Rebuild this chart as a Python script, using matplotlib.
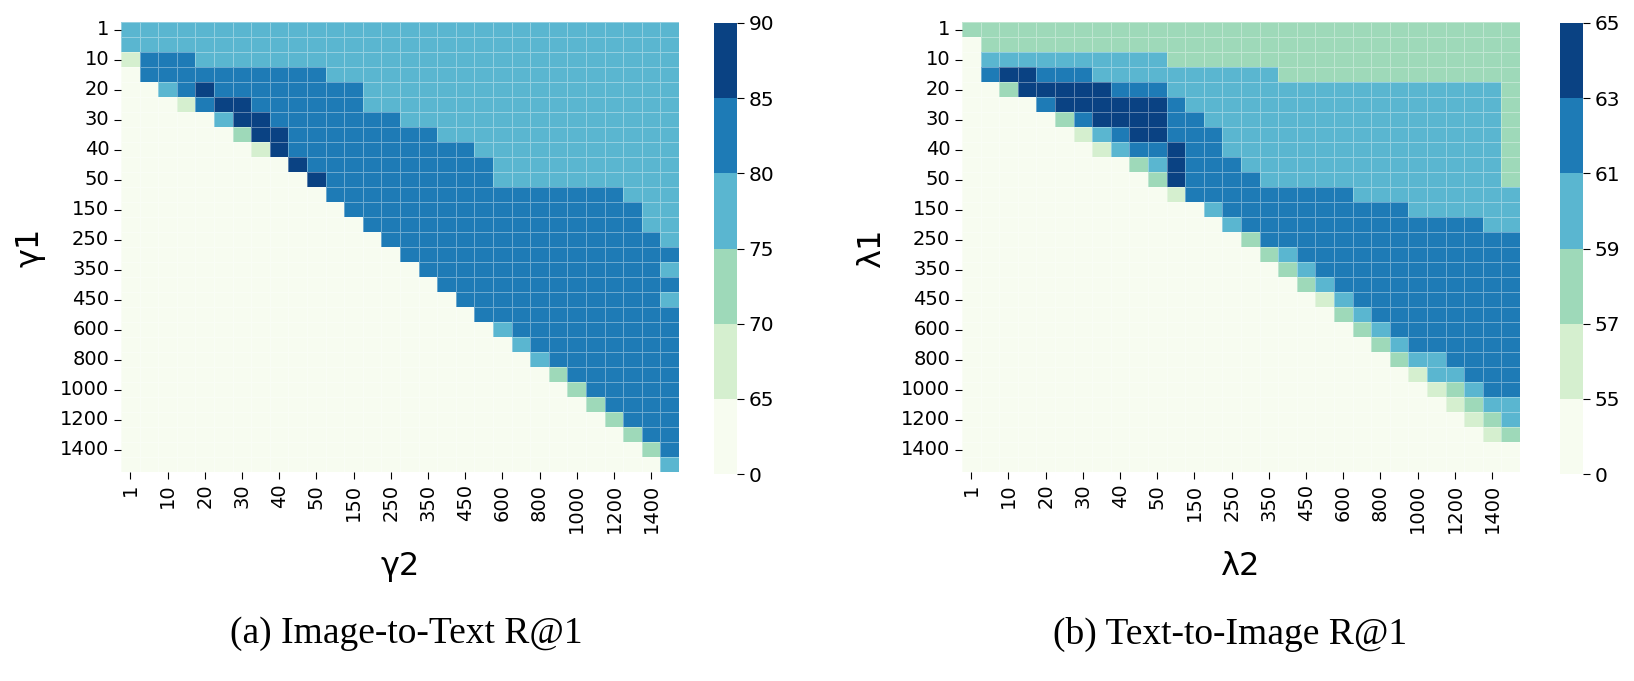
import numpy as np
import pandas as pd
import matplotlib
matplotlib.use("Agg")
import matplotlib.pyplot as plt
import seaborn as sns
from matplotlib.colors import ListedColormap, BoundaryNorm

# parameter grid (same for both axes, only every other label is shown)
params = [1, 5, 10, 15, 20, 25, 30, 35, 40, 45, 50, 100, 150, 200, 250,
          300, 350, 400, 450, 500, 600, 700, 800, 900, 1000, 1100, 1200, 1300, 1400, 1500]

colors = ["#f7fcf0", "#d5efcf", "#9ed9b9", "#5ab6d0", "#1e7bb6", "#0a4283"]

# (a) Image-to-Text R@1 : colour bins and estimated value per bin
bounds_a = [0, 65, 70, 75, 80, 85, 90]
levels_a = [0, 67, 72, 77.5, 82.5, 87.5]
# one string per gamma1 row, one char per gamma2 column ('.'=empty, a..e = bins)
rows_a = [
    "cccccccccc" "cccccccccc" "cccccccccc",
    "cccccccccc" "cccccccccc" "cccccccccc",
    "adddcccccc" "cccccccccc" "cccccccccc",
    ".ddddddddd" "dccccccccc" "cccccccccc",
    "..cdeddddd" "dddccccccc" "cccccccccc",
    "...adeeddd" "dddccccccc" "cccccccccc",
    ".....ceedd" "dddddccccc" "cccccccccc",
    "......beed" "dddddddccc" "cccccccccc",
    ".......aed" "dddddddddc" "cccccccccc",
    ".........e" "dddddddddd" "cccccccccc",
    ".........." "eddddddddd" "cccccccccc",
    ".........." ".ddddddddd" "dddddddccc",
    ".........." "..dddddddd" "ddddddddcc",
    ".........." "...ddddddd" "ddddddddcc",
    ".........." "....dddddd" "dddddddddc",
    ".........." ".....ddddd" "dddddddddd",
    ".........." "......dddd" "dddddddddc",
    ".........." ".......ddd" "dddddddddd",
    ".........." "........dd" "dddddddddc",
    ".........." ".........d" "dddddddddd",
    ".........." ".........." "cddddddddd",
    ".........." ".........." ".cdddddddd",
    ".........." ".........." "..cddddddd",
    ".........." ".........." "...bdddddd",
    ".........." ".........." "....bddddd",
    ".........." ".........." ".....bdddd",
    ".........." ".........." "......bddd",
    ".........." ".........." ".......bdd",
    ".........." ".........." "........bd",
    ".........." ".........." ".........c",
]

# (b) Text-to-Image R@1
bounds_b = [0, 55, 57, 59, 61, 63, 65]
levels_b = [0, 56, 58, 60, 62, 64]
rows_b = [
    "bbbbbbbbbb" "bbbbbbbbbb" "bbbbbbbbbb",
    ".bbbbbbbbb" "bbbbbbbbbb" "bbbbbbbbbb",
    ".ccccccccc" "cbbbbbbbbb" "bbbbbbbbbb",
    ".deedddccc" "cccccccbbb" "bbbbbbbbbb",
    "..beeeeedd" "dccccccccc" "cccccccccb",
    "....deeeee" "edcccccccc" "cccccccccb",
    ".....bdeee" "eddccccccc" "cccccccccb",
    "......acde" "edddcccccc" "cccccccccb",
    ".......acd" "deddcccccc" "cccccccccb",
    ".........b" "cedddccccc" "cccccccccb",
    ".........." "beddddcccc" "cccccccccb",
    ".........." ".adddddddd" "dccccccccc",
    ".........." "...cdddddd" "ddddcccccc",
    ".........." "....cddddd" "ddddddddcc",
    ".........." ".....bdddd" "dddddddddd",
    ".........." "......bcdd" "dddddddddd",
    ".........." ".......bcd" "dddddddddd",
    ".........." "........bc" "dddddddddd",
    ".........." ".........a" "cddddddddd",
    ".........." ".........." "bcdddddddd",
    ".........." ".........." ".bcddddddd",
    ".........." ".........." "..bcdddddd",
    ".........." ".........." "...bccdddd",
    ".........." ".........." "....accddd",
    ".........." ".........." ".....abcdd",
    ".........." ".........." "......abcc",
    ".........." ".........." ".......abc",
    ".........." ".........." "........ab",
    ".........." ".........." "..........",
    ".........." ".........." "..........",
]


def to_matrix(rows, levels):
    assert all(len(r) == len(params) for r in rows) and len(rows) == len(params)
    return np.array([[levels[".abcde".index(ch)] for ch in r] for r in rows])


W, H = 1634, 681
fig = plt.figure(figsize=(W / 100, H / 100), dpi=100)


def panel(x0, cx0, rows, levels, bounds, ylab, xlab, caption, cap_x):
    ax = fig.add_axes([x0 / W, 1 - 472 / H, 558 / W, 450 / H])
    cax = fig.add_axes([cx0 / W, 1 - 474 / H, 22.5 / W, 451 / H])
    cmap = ListedColormap(colors)
    norm = BoundaryNorm(bounds, cmap.N)
    df = pd.DataFrame(to_matrix(rows, levels), index=params, columns=params)
    sns.heatmap(df, ax=ax, cbar_ax=cax, cmap=cmap, norm=norm,
                linewidths=0.5, linecolor=(1, 1, 1, 0.35),
                xticklabels=2, yticklabels=2, cbar_kws={"ticks": bounds})
    ax.tick_params(axis="x", labelrotation=90, labelsize=14, length=5)
    ax.tick_params(axis="y", labelrotation=0, labelsize=14, length=5)
    cax.tick_params(labelsize=14.5, length=5)
    ax.set_ylabel(ylab, fontsize=23)
    ax.set_xlabel(xlab, fontsize=23)
    ax.yaxis.set_label_coords(-0.135, 0.5)
    ax.xaxis.set_label_coords(0.5, -0.175)
    fig.text(cap_x / W, 1 - 634 / H, caption, ha="center", va="center",
             fontsize=27, family="Liberation Serif")


panel(121, 714, rows_a, levels_a, bounds_a, "γ1", "γ2", "(a) Image-to-Text R@1", 406)
panel(962, 1560, rows_b, levels_b, bounds_b, "λ1", "λ2", "(b) Text-to-Image R@1", 1230)

fig.savefig("out.png", dpi=100)
